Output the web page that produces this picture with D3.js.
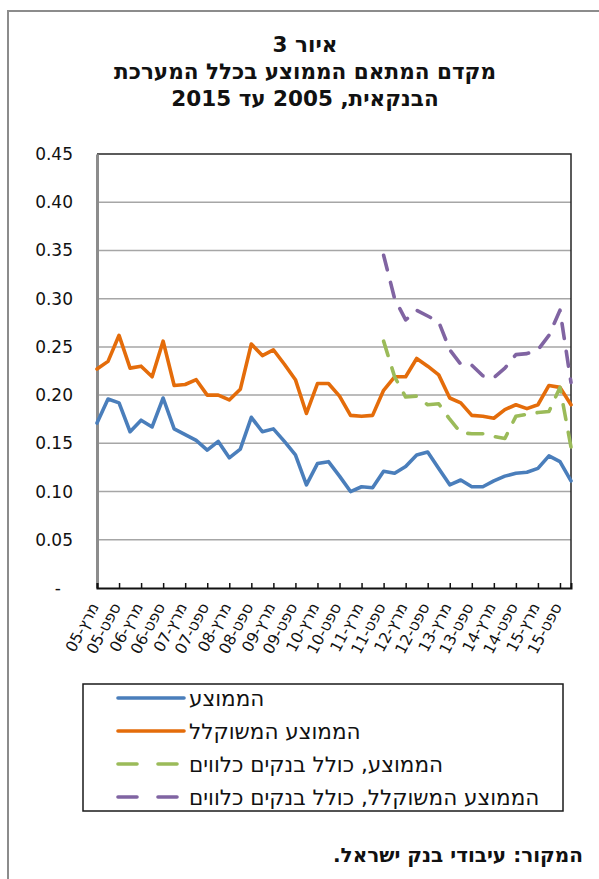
<!DOCTYPE html>
<html lang="he">
<head>
<meta charset="utf-8">
<script src="https://cdn.jsdelivr.net/npm/d3@7"></script>
<style>
  html, body { margin: 0; padding: 0; background: #fff; }
  svg { display: block; font-family: "DejaVu Sans", "Liberation Sans", Arial, sans-serif; }
  .heb { direction: rtl; unicode-bidi: embed; }
</style>
</head>
<body>
<svg id="chart" width="599" height="879"></svg>
<script>
// Quarterly periods, March 2005 to December 2015
const years = ["05","06","07","08","09","10","11","12","13","14","15"];
const months = ["מרץ","יוני","ספט","דצמ"];
const periods = years.flatMap(y => months.map(m => m + "-" + y));

// Average correlation coefficient, all banks
const avgSeries = [0.171,0.196,0.192,0.162,0.174,0.167,0.197,0.165,0.159,0.153,0.143,0.152,0.135,0.144,0.177,0.162,
  0.165,0.152,0.138,0.107,0.129,0.131,0.116,0.100,0.105,0.104,0.121,0.119,0.126,0.138,0.141,0.124,
  0.107,0.112,0.105,0.105,0.111,0.116,0.119,0.120,0.124,0.137,0.131,0.111];

// Weighted average
const weightedSeries = [0.227,0.235,0.262,0.228,0.230,0.219,0.256,0.210,0.211,0.216,0.200,0.200,0.195,0.206,0.253,0.241,
  0.247,0.232,0.216,0.181,0.212,0.212,0.199,0.179,0.178,0.179,0.205,0.219,0.219,0.238,0.230,0.221,
  0.197,0.192,0.179,0.178,0.176,0.185,0.190,0.186,0.190,0.210,0.208,0.190];

// Average including borrowing banks (available from September 2011)
const avgBorrowSeries = [null,null,null,null,null,null,null,null,null,null,null,null,null,null,null,null,
  null,null,null,null,null,null,null,null,null,null,0.256,0.219,0.198,0.199,0.190,0.191,
  0.175,0.161,0.160,0.160,0.157,0.155,0.178,0.180,0.182,0.183,0.208,0.146];

// Weighted average including borrowing banks
const weightedBorrowSeries = [null,null,null,null,null,null,null,null,null,null,null,null,null,null,null,null,
  null,null,null,null,null,null,null,null,null,null,0.345,0.300,0.278,0.288,0.282,0.276,
  0.247,0.232,0.231,0.220,0.218,0.228,0.242,0.243,0.247,0.262,0.288,0.213];

const yTicks = [0,0.05,0.10,0.15,0.20,0.25,0.30,0.35,0.40,0.45];

const seriesNames = ["הממוצע","הממוצע המשוקלל","הממוצע, כולל בנקים כלווים","הממוצע המשוקלל, כולל בנקים כלווים"];
const seriesColors = ["#4a7ebb","#e46c0a","#9bbb59","#8064a2"];
const seriesDash = [null,null,"15,13","15,13"];
const seriesData = [avgSeries, weightedSeries, avgBorrowSeries, weightedBorrowSeries];

const titleLines = ["איור 3","מקדם המתאם הממוצע בכלל המערכת","הבנקאית, 2005 עד 2015"];
const sourceNote = "המקור: עיבודי בנק ישראל.";

const svg = d3.select("#chart");

// outer frame
svg.append("rect")
  .attr("x", 8).attr("y", 11).attr("width", 600).attr("height", 900)
  .attr("fill", "none").attr("stroke", "#8c8c8c").attr("stroke-width", 2);

// title
svg.append("g").selectAll("text").data(titleLines).join("text")
  .attr("class", "heb")
  .attr("x", 305).attr("y", (d, i) => 52 + i * 27)
  .attr("text-anchor", "middle")
  .attr("font-size", 21.5).attr("font-weight", "bold").attr("fill", "#111")
  .text(d => d);

const plot = { left: 97, right: 571, top: 154, bottom: 588 };

const x = d3.scaleLinear().domain([0, periods.length - 1]).range([plot.left, plot.right]);
const y = d3.scaleLinear().domain([0, 0.45]).range([plot.bottom, plot.top]);

// horizontal gridlines
svg.append("g").selectAll("line").data(yTicks.filter(v => v > 0 && v < 0.45)).join("line")
  .attr("x1", plot.left).attr("x2", plot.right)
  .attr("y1", d => y(d)).attr("y2", d => y(d))
  .attr("stroke", "#a6a6a6").attr("stroke-width", 1.5);

// top and right border of the plot area
svg.append("path")
  .attr("d", `M${plot.left},${y(0.45)}H${plot.right}V${plot.bottom}`)
  .attr("fill", "none").attr("stroke", "#262626").attr("stroke-width", 1.5);

// value axis
const yAxis = svg.append("g")
  .attr("transform", `translate(${plot.left},0)`)
  .call(d3.axisLeft(y).tickValues(yTicks).tickSize(0).tickPadding(24)
    .tickFormat(v => v === 0 ? "-" : v.toFixed(2)));
yAxis.select(".domain").attr("stroke", "#8c8c8c").attr("stroke-width", 3);
yAxis.selectAll("text").attr("font-size", 17).attr("fill", "#111").attr("font-family", "DejaVu Sans, sans-serif");
yAxis.selectAll(".tick").filter(d => d === 0).select("text").attr("dx", -12);

// lines
const line = d3.line()
  .defined(d => d != null)
  .x((d, i) => x(i))
  .y(d => y(d));

seriesData.forEach((data, k) => {
  svg.append("path")
    .datum(data)
    .attr("d", line)
    .attr("fill", "none")
    .attr("stroke", seriesColors[k])
    .attr("stroke-width", 3.6)
    .attr("stroke-linejoin", "round")
    .attr("stroke-linecap", "round")
    .attr("stroke-dasharray", seriesDash[k]);
});

// category axis
const xAxis = svg.append("g")
  .attr("transform", `translate(0,${plot.bottom})`)
  .call(d3.axisBottom(x).tickValues(d3.range(0, periods.length, 2)).tickSize(-5).tickPadding(0)
    .tickFormat(i => periods[i]));
xAxis.select(".domain").attr("stroke", "#111").attr("stroke-width", 2);
xAxis.selectAll(".tick line").attr("stroke", "#111").attr("stroke-width", 1.5);
xAxis.selectAll(".tick text")
  .attr("font-size", 15.5).attr("fill", "#111")
  .attr("font-family", "DejaVu Sans, sans-serif")
  .attr("text-anchor", "end")
  .attr("dy", "0.35em")
  .attr("transform", "translate(-3,16) rotate(-62)");

// legend
const legend = svg.append("g");
legend.append("rect")
  .attr("x", 83).attr("y", 684).attr("width", 480).attr("height", 127)
  .attr("fill", "#fff").attr("stroke", "#1a1a1a").attr("stroke-width", 1.5);
const rows = legend.selectAll("g.row").data(seriesNames).join("g")
  .attr("class", "row")
  .attr("transform", (d, i) => `translate(0,${698 + i * 33})`);
rows.append("line")
  .attr("x1", 118).attr("x2", 184).attr("y1", 0).attr("y2", 0)
  .attr("stroke", (d, i) => seriesColors[i])
  .attr("stroke-width", 3.6)
  .attr("stroke-linecap", "round")
  .attr("stroke-dasharray", (d, i) => seriesDash[i] ? "19,21" : null);
rows.append("text")
  .attr("class", "heb")
  .attr("x", 189).attr("y", 0).attr("dy", "0.35em")
  .attr("text-anchor", "end")
  .attr("font-size", 21.5).attr("fill", "#111")
  .text(d => d);

// source note
svg.append("text")
  .attr("class", "heb")
  .attr("x", 583).attr("y", 862)
  .attr("text-anchor", "start")
  .attr("font-size", 20).attr("font-weight", "bold").attr("fill", "#111")
  .text(sourceNote);
</script>
</body>
</html>
